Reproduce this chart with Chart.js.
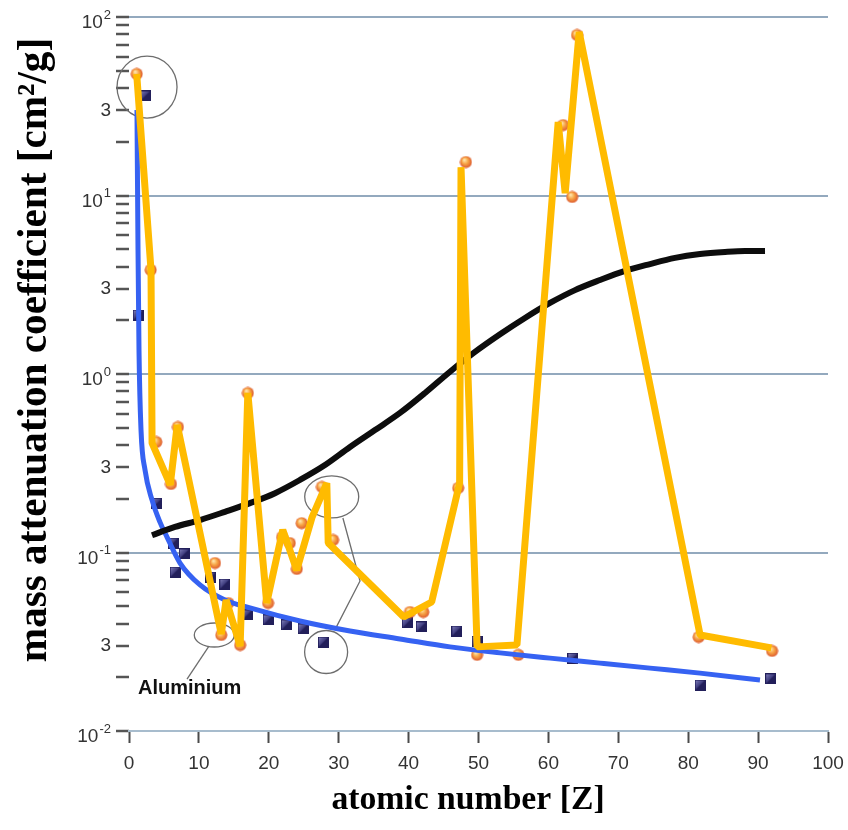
<!DOCTYPE html>
<html>
<head>
<meta charset="utf-8">
<script src="https://cdn.jsdelivr.net/npm/chart.js@4.4.1/dist/chart.umd.min.js"></script>
<style>
html, body { margin: 0; padding: 0; background: #fff; }
#wrap { width: 848px; height: 830px; }
</style>
</head>
<body>
<div id="wrap"><canvas id="chart" width="848" height="830"></canvas></div>
<script>
// ---- data (atomic number Z / mass attenuation coefficient cm2/g) ----
const yellowZ  = [1.1, 3.15, 3.3, 5.9, 6.9, 13.2, 13.9, 15.9, 17.0, 19.7, 22.0, 24.0, 26.2, 28.3, 28.5, 39.3, 43.3, 47.3, 47.5, 49.8, 55.5, 61.4, 62.4, 64.4, 81.7, 91.9];
const yellowMu = [48.0, 3.83, 0.410, 0.239, 0.518, 0.0349, 0.0542, 0.0299, 0.783, 0.0521, 0.134, 0.0798, 0.158, 0.245, 0.113, 0.0435, 0.0528, 0.245, 14.4, 0.0296, 0.0303, 25.8, 10.3, 82.4, 0.0345, 0.0292];

const dotZ  = [1.1, 3.1, 3.9, 6.0, 7.0, 12.3, 13.2, 14.2, 15.9, 17.0, 19.9, 21.9, 23.0, 24.0, 24.7, 27.6, 29.2, 40.2, 42.1, 47.1, 48.2, 49.8, 55.7, 62.1, 63.4, 64.1, 81.5, 92.0];
const dotMu = [48.0, 3.83, 0.416, 0.242, 0.505, 0.0873, 0.0345, 0.0521, 0.0303, 0.783, 0.0521, 0.122, 0.113, 0.0809, 0.146, 0.233, 0.1175, 0.0464, 0.0464, 0.230, 15.4, 0.0267, 0.0267, 24.8, 9.81, 79.3, 0.0336, 0.0281];

const boxZ  = [2.3, 1.3, 4.0, 6.3, 7.9, 6.6, 11.7, 13.7, 16.9, 19.9, 22.5, 24.9, 27.8, 39.8, 41.8, 46.9, 49.8, 63.5, 81.7, 91.8];
const boxMu = [36.1, 2.14, 0.189, 0.113, 0.0981, 0.0777, 0.0729, 0.0666, 0.0447, 0.0419, 0.0393, 0.0373, 0.0315, 0.0403, 0.0383, 0.0363, 0.0319, 0.0256, 0.0181, 0.0196];

const blueZ  = [1.14, 1.29, 1.43, 1.72, 2.29, 3.29, 4.43, 5.44, 7.3, 10.16, 13.73, 17.31, 24.46, 31.62, 38.77, 45.92, 53.08, 60.23, 67.38, 74.54, 81.69, 90.27];
const blueMu = [30.1, 4.95, 1.36, 0.485, 0.290, 0.197, 0.148, 0.122, 0.0873, 0.0658, 0.0542, 0.0489, 0.0413, 0.0363, 0.0328, 0.0296, 0.0274, 0.0256, 0.0240, 0.0225, 0.0211, 0.0193];

const blackZ  = [3.29, 6.58, 10.16, 13.73, 17.31, 20.89, 24.46, 28.04, 31.62, 35.19, 38.77, 42.35, 45.92, 49.5, 53.08, 56.65, 60.23, 63.81, 67.38, 70.96, 74.54, 78.11, 81.69, 85.27, 88.13, 90.99];
const blackMu = [0.125, 0.139, 0.152, 0.169, 0.189, 0.215, 0.255, 0.309, 0.390, 0.485, 0.605, 0.783, 1.03, 1.33, 1.67, 2.06, 2.50, 2.95, 3.36, 3.78, 4.13, 4.47, 4.70, 4.83, 4.89, 4.89];

// ticks
const xTicks = [0, 10, 20, 30, 40, 50, 60, 70, 80, 90, 100];
const yExponents = [-2, -1, 0, 1, 2];
const yMantissas = [1, 2, 3, 4, 5, 6, 7, 8, 9];
const yLabelMantissa = 3;

// annotations: circles / ellipses around points, connectors, label
const rings = [
    { z: 2.58, mu: 40.5, rx: 30, ry: 31 },
    { z: 12.2, mu: 0.0345, rx: 20, ry: 12 },
    { z: 29.0, mu: 0.205, rx: 27, ry: 21 },
    { z: 28.2, mu: 0.0277, rx: 21.5, ry: 21.5 },
];
const connectors = [
    [[11.44, 0.0299], [8.3, 0.0195]],
    [[30.6, 0.156], [33.05, 0.0692], [29.6, 0.0378]],
];
const aluminiumLabel = { text: 'Aluminium', z: 1.29, mu: 0.0174 };

const pts = (xs, ys) => xs.map((x, i) => ({ x: x, y: ys[i] }));

function makeBall(d) {
    const c = document.createElement('canvas');
    c.width = c.height = d;
    const g = c.getContext('2d');
    const r = d / 2;
    const grd = g.createRadialGradient(r * 0.75, r * 0.65, 0.5, r, r, r);
    grd.addColorStop(0, '#ffe7ad');
    grd.addColorStop(0.45, '#f7a445');
    grd.addColorStop(1, '#d9502b');
    g.fillStyle = grd;
    g.beginPath();
    g.arc(r, r, r - 0.5, 0, Math.PI * 2);
    g.fill();
    return c;
}

function makeBox(d) {
    const c = document.createElement('canvas');
    c.width = c.height = d;
    const g = c.getContext('2d');
    g.fillStyle = '#221f5a';
    g.fillRect(0, 0, d, d);
    const grd = g.createLinearGradient(0, 0, d, d);
    grd.addColorStop(0, 'rgba(160,160,215,0.9)');
    grd.addColorStop(0.5, 'rgba(90,88,160,0.5)');
    grd.addColorStop(1, 'rgba(20,18,60,0)');
    g.fillStyle = grd;
    g.beginPath();
    g.moveTo(1, 1); g.lineTo(d - 1, 1); g.lineTo(1, d - 1);
    g.closePath();
    g.fill();
    return c;
}

const yTickValues = [];
yExponents.forEach(e => {
    if (e === yExponents[yExponents.length - 1]) {
        yTickValues.push(Math.pow(10, e));
        return;
    }
    yMantissas.forEach(m => yTickValues.push(Number((m * Math.pow(10, e)).toPrecision(3))));
});

function mantissa(v) {
    const e = Math.floor(Math.log10(v) + 1e-9);
    return Math.round(v / Math.pow(10, e));
}

const labelFont = '"Liberation Sans", Arial, Helvetica, sans-serif';
const titleFont = '"Liberation Serif", "Times New Roman", serif';

function fitFont(ctx, text, target, weight, family) {
    let size = 30;
    ctx.font = weight + ' ' + size + 'px ' + family;
    const w = ctx.measureText(text).width;
    size = size * target / w;
    return weight + ' ' + size.toFixed(1) + 'px ' + family;
}

const decorations = {
    id: 'decorations',
    beforeDatasetsDraw(chart) {
        const ctx = chart.ctx;
        const xs = chart.scales.x, ys = chart.scales.y;
        ctx.save();
        ctx.strokeStyle = '#6d6d6d';
        ctx.lineWidth = 1.3;
        rings.forEach(r => {
            ctx.beginPath();
            ctx.ellipse(xs.getPixelForValue(r.z), ys.getPixelForValue(r.mu), r.rx, r.ry, 0, 0, Math.PI * 2);
            ctx.stroke();
        });
        connectors.forEach(line => {
            ctx.beginPath();
            line.forEach((p, i) => {
                const px = xs.getPixelForValue(p[0]), py = ys.getPixelForValue(p[1]);
                if (i === 0) ctx.moveTo(px, py); else ctx.lineTo(px, py);
            });
            ctx.stroke();
        });
        ctx.fillStyle = '#111';
        ctx.font = 'bold 20px ' + labelFont;
        ctx.textAlign = 'left';
        ctx.textBaseline = 'middle';
        ctx.fillText(aluminiumLabel.text, xs.getPixelForValue(aluminiumLabel.z), ys.getPixelForValue(aluminiumLabel.mu));
        ctx.restore();
    },
    afterDraw(chart) {
        const ctx = chart.ctx;
        const ys = chart.scales.y;
        ctx.save();
        // decade labels 10^n
        ctx.fillStyle = '#333';
        ctx.textBaseline = 'middle';
        ctx.textAlign = 'right';
        const right = chart.chartArea.left - 18;
        yExponents.forEach(e => {
            const y = ys.getPixelForValue(Math.pow(10, e));
            const sup = String(e);
            ctx.font = '13px ' + labelFont;
            const sw = ctx.measureText(sup).width;
            ctx.fillText(sup, right, y - 2);
            ctx.font = '19px ' + labelFont;
            ctx.fillText('10', right - sw - 1, y + 6);
        });
        // axis titles
        ctx.fillStyle = '#000';
        ctx.textAlign = 'center';
        const xt = 'atomic number [Z]';
        ctx.font = fitFont(ctx, xt, 273, 'bold', titleFont);
        ctx.fillText(xt, 468, 800);
        const yt = 'mass attenuation coefficient [cm\u00b2/g]';
        ctx.font = fitFont(ctx, yt, 624, 'bold', titleFont);
        ctx.translate(35, 350);
        ctx.rotate(-Math.PI / 2);
        ctx.fillText(yt, 0, 0);
        ctx.restore();
    }
};

const ctx = document.getElementById('chart').getContext('2d');

new Chart(ctx, {
    type: 'scatter',
    data: {
        datasets: [
            {
                label: 'yellow',
                data: pts(yellowZ, yellowMu),
                showLine: true,
                borderColor: '#ffbb00',
                borderWidth: 7,
                borderJoinStyle: 'bevel',
                pointRadius: 0,
                tension: 0,
                order: 0,
            },
            {
                label: 'black',
                data: pts(blackZ, blackMu),
                showLine: true,
                borderColor: '#0d0d0d',
                borderWidth: 6,
                pointRadius: 0,
                cubicInterpolationMode: 'monotone',
                order: 1,
            },
            {
                label: 'blue',
                data: pts(blueZ, blueMu),
                showLine: true,
                borderColor: '#3662f2',
                borderWidth: 5,
                pointRadius: 0,
                cubicInterpolationMode: 'monotone',
                order: 2,
            },
            {
                label: 'dots',
                data: pts(dotZ, dotMu),
                pointStyle: makeBall(13),
                pointRadius: 6,
                order: 3,
            },
            {
                label: 'boxes',
                data: pts(boxZ, boxMu),
                pointStyle: makeBox(11),
                pointRadius: 5,
                order: 4,
            },
        ],
    },
    options: {
        responsive: false,
        animation: false,
        layout: { padding: { top: 17, right: 20, left: 0, bottom: 0 } },
        plugins: {
            legend: { display: false },
            tooltip: { enabled: false },
        },
        scales: {
            x: {
                type: 'linear',
                min: 0,
                max: 100,
                afterBuildTicks: s => { s.ticks = xTicks.map(v => ({ value: v })); },
                afterFit: s => { s.height = 99; s.paddingLeft = 0; s.paddingRight = 0; },
                border: { display: true, color: '#a7bccd', width: 2 },
                grid: { drawOnChartArea: false, drawTicks: true, tickLength: 12, tickColor: '#4a4a4a', tickWidth: 2 },
                ticks: { padding: 9, color: '#333', font: { family: labelFont, size: 19 }, maxRotation: 0, autoSkip: false },
            },
            y: {
                type: 'logarithmic',
                min: 0.01,
                max: 100,
                afterBuildTicks: s => { s.ticks = yTickValues.map(v => ({ value: v })); },
                afterFit: s => { s.width = 129; s.paddingTop = 0; s.paddingBottom = 0; },
                border: { display: false },
                grid: {
                    color: c => (c.tick && mantissa(c.tick.value) === 1) ? '#93a9be' : 'rgba(0,0,0,0)',
                    lineWidth: 2,
                    drawTicks: true,
                    tickLength: 13,
                    tickColor: '#555',
                    tickWidth: 2.5,
                },
                ticks: {
                    padding: 5,
                    color: '#333',
                    autoSkip: false,
                    font: { family: labelFont, size: 19 },
                    callback: v => mantissa(v) === yLabelMantissa ? String(yLabelMantissa) : '',
                },
            },
        },
    },
    plugins: [decorations],
});
</script>
</body>
</html>
